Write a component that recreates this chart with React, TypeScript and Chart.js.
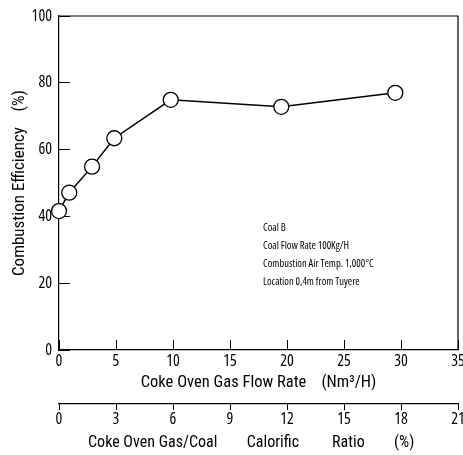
import React, { useEffect, useRef } from "react";
import { Chart, registerables } from "chart.js";

Chart.register(...registerables);

const gasFlowRate = [0, 0.9, 2.9, 4.85, 9.8, 19.5, 29.5];
const combustionEfficiency = [41.6, 47.1, 54.9, 63.4, 74.9, 72.8, 77.0];

const xTicks = [0, 5, 10, 15, 20, 25, 30, 35];
const ratioTicks = [0, 3, 6, 9, 12, 15, 18, 21];
const yTicks = [0, 20, 40, 60, 80, 100];

const annotationLines = [
  "Coal B",
  "Coal Flow Rate 100Kg/H",
  "Combustion Air Temp. 1,000\u00b0C",
  "Location 0,4m from Tuyere",
];

const TICKFONT = "'Open Sans', 'Liberation Sans', sans-serif";
const TITLEFONT = "Roboto, 'Liberation Sans', sans-serif";

// make every text drawn on this context condensed
function condense(ctx: any) {
  const desc = Object.getOwnPropertyDescriptor(CanvasRenderingContext2D.prototype, "font")!;
  Object.defineProperty(ctx, "font", {
    configurable: true,
    get() {
      return desc.get!.call(this);
    },
    set(v: string) {
      desc.set!.call(this, v);
      this.fontStretch = "condensed";
    },
  });
  ctx.fontStretch = "condensed";
}

const framePlugin = {
  id: "frame",
  afterDraw(chart: any) {
    const { ctx, chartArea } = chart;
    ctx.save();
    ctx.strokeStyle = "#000";
    ctx.lineWidth = 1.2;
    ctx.beginPath();
    ctx.moveTo(chartArea.left, chartArea.top);
    ctx.lineTo(chartArea.right, chartArea.top);
    ctx.lineTo(chartArea.right, chartArea.bottom);
    ctx.stroke();
    ctx.restore();
  },
};

const annotationPlugin = {
  id: "annotationText",
  afterDraw(chart: any) {
    const { ctx, scales } = chart;
    const x0 = scales.x.getPixelForValue(17.9);
    const y0 = scales.y.getPixelForValue(36.6);
    ctx.save();
    ctx.fillStyle = "#000";
    ctx.font = `10.5px ${TICKFONT}`;
    ctx.textAlign = "left";
    ctx.textBaseline = "middle";
    annotationLines.forEach((t, i) => {
      ctx.fillText(t, x0, y0 + i * 18);
    });
    ctx.restore();
  },
};

export default function App() {
  const ref = useRef<HTMLCanvasElement | null>(null);
  useEffect(() => {
    if (!ref.current) return;
    const ctx = ref.current.getContext("2d")!;
    condense(ctx);
    const chart = new Chart(ctx, {
      type: "scatter",
      data: {
        datasets: [
          {
            data: gasFlowRate.map((x, i) => ({ x, y: combustionEfficiency[i] })),
            showLine: true,
            borderColor: "#000",
            borderWidth: 1.5,
            pointRadius: 7.5,
            pointHoverRadius: 7.5,
            pointBackgroundColor: "#fff",
            pointBorderColor: "#000",
            pointBorderWidth: 1.3,
            clip: false as any,
            xAxisID: "x",
            yAxisID: "y",
          },
        ],
      },
      options: {
        animation: false,
        responsive: true,
        maintainAspectRatio: false,
        layout: { autoPadding: false, padding: { top: 16, right: 5, left: 0, bottom: 0 } },
        plugins: { legend: { display: false }, tooltip: { enabled: false } },
        scales: {
          x: {
            type: "linear",
            position: "bottom",
            weight: 0,
            min: 0,
            max: 35,
            afterBuildTicks: (s: any) => {
              s.ticks = xTicks.map((v) => ({ value: v }));
            },
            afterFit: (s: any) => {
              s.height = 54;
              s.paddingLeft = 0;
              s.paddingRight = 0;
            },
            grid: { drawOnChartArea: false, drawTicks: true, tickLength: -10, color: "#000", lineWidth: 1 },
            border: { display: true, color: "#000", width: 1.2 },
            ticks: { autoSkip: false, maxRotation: 0, padding: 12, color: "#000", font: { family: TICKFONT, size: 16 } },
            title: {
              display: true,
              text: "Coke Oven Gas Flow Rate    (Nm\u00b3/H)",
              color: "#000",
              font: { family: TITLEFONT, size: 16.5 },
              padding: { top: 0, bottom: 11 },
            },
          },
          x2: {
            type: "linear",
            position: "bottom",
            weight: 1,
            min: 0,
            max: 21,
            afterBuildTicks: (s: any) => {
              s.ticks = ratioTicks.map((v) => ({ value: v }));
            },
            afterFit: (s: any) => {
              s.height = 51;
              s.paddingLeft = 0;
              s.paddingRight = 0;
            },
            grid: { drawOnChartArea: false, drawTicks: true, tickLength: 6, color: "#000", lineWidth: 1 },
            border: { display: true, color: "#000", width: 1.2 },
            ticks: { autoSkip: false, maxRotation: 0, padding: 0, color: "#000", font: { family: TICKFONT, size: 16 } },
            title: {
              display: true,
              text: "Coke Oven Gas/Coal        Calorific         Ratio        (%)    ",
              color: "#000",
              font: { family: TITLEFONT, size: 16 },
              padding: { top: 0, bottom: 2 },
            },
          },
          y: {
            type: "linear",
            position: "left",
            min: 0,
            max: 100,
            afterBuildTicks: (s: any) => {
              s.ticks = yTicks.map((v) => ({ value: v }));
            },
            afterFit: (s: any) => {
              s.width = 59;
              s.paddingTop = 0;
              s.paddingBottom = 0;
            },
            grid: { drawOnChartArea: false, drawTicks: true, tickLength: -11, color: "#000", lineWidth: 1 },
            border: { display: true, color: "#000", width: 1.2 },
            ticks: { autoSkip: false, padding: 18, color: "#000", font: { family: TICKFONT, size: 16 } },
            title: {
              display: true,
              text: "Combustion Efficiency    (%)",
              color: "#000",
              font: { family: TITLEFONT, size: 17 },
              padding: { top: 10, bottom: 0 },
            },
          },
        },
      },
      plugins: [framePlugin, annotationPlugin],
    });
    return () => chart.destroy();
  }, []);
  return (
    <div style={{ position: "fixed", left: 0, top: 0, width: 463, height: 455, background: "#fff" }}>
      <canvas ref={ref} />
    </div>
  );
}
